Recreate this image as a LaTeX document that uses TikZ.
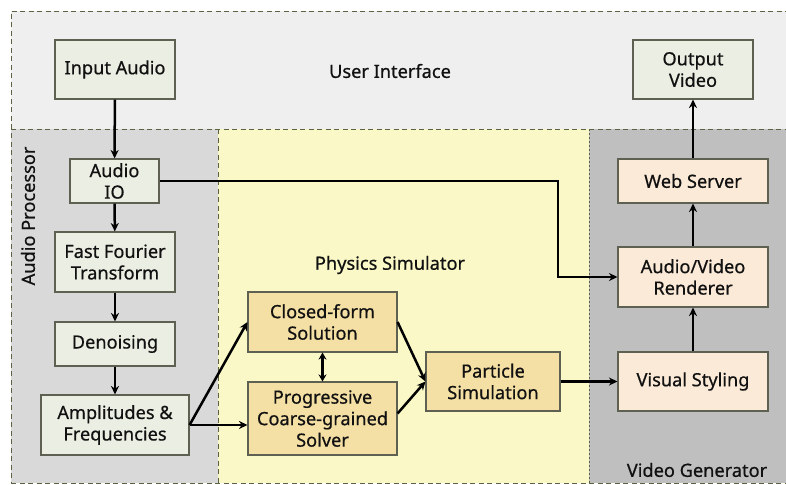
\documentclass[tikz,border=0pt]{standalone}
\usepackage{fontspec}
\setmainfont{Noto Sans}[FakeBold=0.6]
\usetikzlibrary{arrows.meta}
\definecolor{uifill}{HTML}{EFEFEF}
\definecolor{apfill}{HTML}{D9D9D9}
\definecolor{psfill}{HTML}{FAF8C6}
\definecolor{vgfill}{HTML}{BFBFBF}
\definecolor{regline}{HTML}{5C6244}
\definecolor{boxline}{HTML}{5E6052}
\definecolor{greenbox}{HTML}{EBEFE3}
\definecolor{ambox}{HTML}{F4DFA4}
\definecolor{peachbox}{HTML}{FBEAD7}
\definecolor{ink}{HTML}{111111}
\tikzset{
  region/.style={draw=regline, line width=0.9pt, dash pattern=on 5pt off 3.5pt},
  blk/.style={draw=boxline, line width=1.1pt, align=center, inner sep=0pt,
    text=ink, font=\fontsize{18.2}{21.5}\selectfont},
  gbox/.style={blk, fill=greenbox},
  abox/.style={blk, fill=ambox},
  pbox/.style={blk, fill=peachbox},
  lbl/.style={text=ink, font=\fontsize{18.2}{21.5}\selectfont},
  flow/.style={line width=2.5pt, draw=black, -{Stealth[length=8.5pt,width=8pt]}},
  both/.style={line width=2.5pt, draw=black, {Stealth[length=7pt,width=8pt]}-{Stealth[length=7pt,width=8pt]}}
}
\begin{document}
\begin{tikzpicture}[x=1pt,y=-1pt]
\useasboundingbox (0,0) rectangle (786,484);
\fill[white] (0,0) rectangle (786,484);

% regions
\fill[uifill] (11,11) rectangle (790,129);
\fill[apfill] (11,129) rectangle (218,483);
\fill[psfill] (218,129) rectangle (589,483);
\fill[vgfill] (589,129) rectangle (790,483);
\draw[region] (790,11) -- (11,11) -- (11,483);
\draw[region] (11,129) -- (790,129);
\draw[region] (218,129) -- (218,483);
\draw[region, dash pattern=on 2pt off 2pt] (589,129) -- (589,483);
\draw[region] (11,483) -- (790,483);

% region labels
\node[lbl] (uilbl) at (390,71) {User Interface};
\node[lbl] (pslbl) at (390,265) {Physics Simulator};
\node[lbl, rotate=90] (aplbl) at (28,216) {Audio Processor};
\node[lbl] (vglbl) at (697,470) {Video Generator};

% blocks
\node[gbox, minimum width=120pt, minimum height=59pt] (in) at (115,69.5) {Input Audio};
\node[gbox, minimum width=120pt, minimum height=59pt] (out) at (693,69.5) {Output\\Video};
\node[gbox, minimum width=89pt, minimum height=44pt] (aio) at (114.5,181) {Audio\\IO};
\node[gbox, minimum width=120pt, minimum height=60pt] (fft) at (115,262) {Fast Fourier\\Transform};
\node[gbox, minimum width=120pt, minimum height=44pt] (den) at (115,344) {Denoising};
\node[gbox, minimum width=148pt, minimum height=60pt] (amp) at (115,425) {Amplitudes \&\\Frequencies};

\node[abox, minimum width=149pt, minimum height=60pt] (cfs) at (322.5,322) {Closed-form\\Solution};
\node[abox, minimum width=149pt, minimum height=73pt] (pcs) at (322.5,418.5) {Progressive\\Coarse-grained\\Solver};
\node[abox, minimum width=134pt, minimum height=59pt] (par) at (493,381.5) {Particle\\Simulation};

\node[pbox, minimum width=150pt, minimum height=44pt] (web) at (693,181) {Web Server};
\node[pbox, minimum width=150pt, minimum height=60pt] (ren) at (693,277) {Audio/Video\\Renderer};
\node[pbox, minimum width=150pt, minimum height=59pt] (vis) at (693,381.5) {Visual Styling};

% connectors
\draw[flow] (in) -- (aio);
\draw[flow] (aio) -- (fft);
\draw[flow] (fft) -- (den);
\draw[flow] (den) -- (amp);
\draw[flow] (amp.east) -- (cfs.west);
\draw[flow] (amp.east) -- (amp.east -| pcs.west);
\draw[both] (cfs) -- (pcs);
\draw[flow] (cfs.east) -- (par.west);
\draw[flow] ([yshift=5pt]pcs.east) -- (par.west);
\draw[flow] (par) -- (vis);
\draw[flow] (vis) -- (ren);
\draw[flow] (ren) -- (web);
\draw[flow] (web) -- (out);
\coordinate (bend) at (558,181);
\draw[flow] (aio.east) -- (bend) -- (bend |- ren.west) -- (ren.west);
\end{tikzpicture}
\end{document}
